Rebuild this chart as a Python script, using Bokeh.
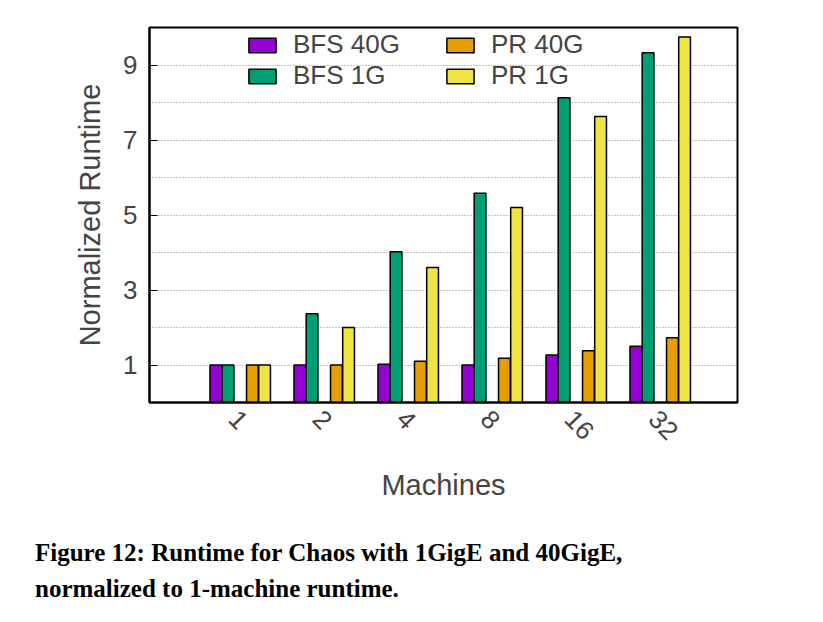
import numpy as np
from bokeh.plotting import figure
from bokeh.layouts import column
from bokeh.models import FixedTicker, Legend, LegendItem, Div
from bokeh.embed import file_html
from bokeh.resources import INLINE

machines = ["1", "2", "4", "8", "16", "32"]
bfs_40g = [1.0, 1.0, 1.02, 1.0, 1.27, 1.5]
bfs_1g = [1.0, 2.37, 4.02, 5.58, 8.13, 9.33]
pr_40g = [1.0, 1.0, 1.1, 1.18, 1.38, 1.73]
pr_1g = [1.0, 2.0, 3.6, 5.2, 7.63, 9.75]

series = [("BFS 40G", bfs_40g, "#9400d3", -0.21),
          ("BFS 1G", bfs_1g, "#009e73", -0.065),
          ("PR 40G", pr_40g, "#e69f00", 0.225),
          ("PR 1G", pr_1g, "#f0e442", 0.37)]

font = "Liberation Sans"
p = figure(width=800, height=530, x_range=(0, 7), y_range=(0, 10),
           output_backend="svg", toolbar_location=None,
           min_border_left=149, min_border_right=63, min_border_top=27, min_border_bottom=128,
           x_axis_label="Machines", y_axis_label="Normalized Runtime")

pos = np.arange(1, len(machines) + 1)
renderers = {}
for name, vals, col, off in series:
    renderers[name] = p.vbar(x=pos + off, top=vals, width=0.14, fill_color=col,
                             line_color="black", line_width=1.5)

legend = Legend(items=[LegendItem(label=n, renderers=[renderers[n]]) for n in
                       ["BFS 40G", "BFS 1G", "PR 40G", "PR 1G"]],
                location="top_center", ncols=2, border_line_alpha=0,
                background_fill_alpha=0, label_text_font=font, label_text_font_size="26px",
                glyph_width=34, glyph_height=18, spacing=0, padding=0, margin=2,
                label_standoff=14, label_height=24, label_width=150)
p.add_layout(legend)

p.xaxis.ticker = FixedTicker(ticks=list(pos))
p.xaxis.major_label_overrides = {int(i): m for i, m in zip(pos, machines)}
p.xaxis.major_label_orientation = -0.8
p.yaxis.ticker = FixedTicker(ticks=[1, 3, 5, 7, 9])
p.ygrid.ticker = FixedTicker(ticks=list(range(1, 10)))
p.xgrid.visible = False
p.ygrid.grid_line_color = "#888888"
p.ygrid.grid_line_dash = "1 2"
p.outline_line_color = "black"
p.outline_line_width = 2
for ax in (p.xaxis, p.yaxis):
    ax.axis_line_width = 2
    ax.major_tick_in = 8
    ax.major_tick_out = 0
    ax.minor_tick_line_color = None
    ax.major_label_text_font = font
    ax.major_label_text_font_size = "26px"
    ax.major_label_standoff = 12
    ax.axis_label_text_font = font
    ax.axis_label_text_font_size = "29px"
    ax.axis_label_text_font_style = "normal"
p.xaxis.axis_label_standoff = 18
p.yaxis.axis_label_standoff = 14

cap = Div(text="<div style='width:752px;text-align:justify;text-align-last:left;"
               "font-family:\"Liberation Serif\";font-weight:bold;font-size:25px;line-height:36px;"
               "margin-left:30px'>Figure 12: Runtime for Chaos with 1GigE and 40GigE,<br>"
               "normalized to 1-machine runtime.</div>", width=800)

layout = column(p, cap, spacing=0)
open("out.html", "w").write(file_html(layout, INLINE))
